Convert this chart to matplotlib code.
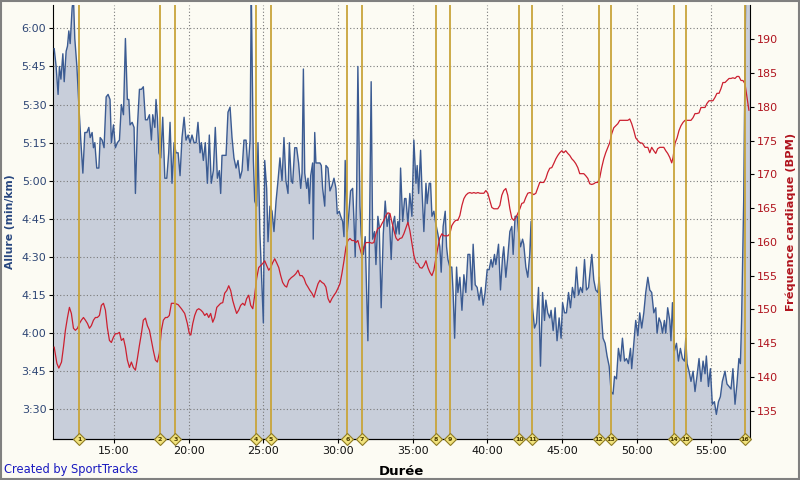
import matplotlib
matplotlib.use("Agg")
import matplotlib.pyplot as plt
from matplotlib.patches import Rectangle
from matplotlib.ticker import FuncFormatter

# --- données : allure (s/km) en fonction du temps (min) ---
pace_time = (
    [10.99, 11.12, 11.25, 11.34, 11.44, 11.57, 11.66, 11.79, 11.88, 11.97,
     12.06, 12.19, 12.28, 12.37, 12.51, 12.64, 12.77, 12.91, 13.04, 13.18,
     13.31, 13.40, 13.53, 13.62, 13.71, 13.84, 13.98, 14.07, 14.20, 14.33,
     14.47, 14.60, 14.73, 14.82, 14.96, 15.09, 15.22, 15.36, 15.49, 15.63,
     15.76, 15.89, 15.99, 16.07, 16.21, 16.34, 16.43, 16.56, 16.70, 16.83,
     16.96, 17.10, 17.23, 17.37, 17.50, 17.59, 17.73, 17.81, 17.90, 18.00,
     18.13, 18.26, 18.40, 18.53, 18.66]
    + [18.75, 18.88, 19.02, 19.15, 19.29, 19.42, 19.55, 19.69, 19.82, 19.96,
       20.09, 20.22, 20.36, 20.49, 20.62, 20.76, 20.85, 20.98, 21.11, 21.25,
       21.38, 21.51, 21.65, 21.78, 21.92, 22.05, 22.14, 22.23, 22.36, 22.50,
       22.63, 22.77, 22.90, 23.03, 23.17, 23.30, 23.44, 23.57, 23.70, 23.84,
       23.97, 24.11, 24.19, 24.33, 24.42, 24.55, 24.64, 24.77, 24.91, 25.00,
       25.09, 25.22, 25.31, 25.44, 25.58, 25.71, 25.85, 25.98, 26.11, 26.25,
       26.38, 26.51]
    + [26.65, 26.74, 26.87, 26.96, 27.10, 27.23, 27.36, 27.50, 27.59, 27.68,
       27.77, 27.90, 27.99, 28.08, 28.17, 28.30, 28.34, 28.44, 28.52, 28.66,
       28.79, 28.88, 28.97, 29.11, 29.19, 29.33, 29.46, 29.59, 29.73, 29.86,
       29.95, 30.08, 30.18, 30.31, 30.40, 30.48, 30.62, 30.71, 30.84, 30.98,
       31.07, 31.15, 31.25, 31.33, 31.47, 31.55, 31.69, 31.82, 31.91, 32.00,
       32.09, 32.22, 32.32, 32.45, 32.54, 32.67, 32.76, 32.89, 33.03, 33.16,
       33.29, 33.43, 33.56, 33.65, 33.79, 33.88, 34.01, 34.10, 34.19, 34.33,
       34.46]
    + [34.55, 34.68, 34.81, 34.95, 35.08, 35.22, 35.30, 35.40, 35.53, 35.62,
       35.75, 35.89, 35.97, 36.11, 36.20, 36.29, 36.42, 36.55, 36.69, 36.82,
       36.91, 37.04, 37.18, 37.27, 37.36, 37.49, 37.62, 37.71, 37.81, 37.94,
       38.03, 38.16, 38.30, 38.43, 38.56, 38.70, 38.83, 38.96, 39.05, 39.19,
       39.32, 39.45, 39.59, 39.72, 39.85, 39.99, 40.12, 40.25, 40.35, 40.48,
       40.57, 40.75, 40.88, 41.02, 41.10, 41.24, 41.37, 41.51, 41.64, 41.73,
       41.86, 42.00, 42.09, 42.22, 42.36]
    + [42.44, 42.58, 42.71, 42.84, 42.93, 43.03, 43.16, 43.29, 43.43, 43.56,
       43.70, 43.83, 43.92, 44.05, 44.18, 44.27, 44.41, 44.54, 44.67, 44.81,
       44.94, 45.04, 45.17, 45.30, 45.44, 45.57, 45.70, 45.84, 45.97, 46.11,
       46.24, 46.37, 46.51, 46.64, 46.78, 46.91, 47.00, 47.13, 47.26, 47.40,
       47.49, 47.62, 47.75, 47.89, 48.02, 48.16, 48.29, 48.42, 48.52, 48.65,
       48.78, 48.92, 49.05, 49.19, 49.32, 49.45, 49.59, 49.67, 49.81, 49.94,
       50.08, 50.21]
    + [50.34, 50.48, 50.61, 50.75, 50.88, 51.01, 51.15, 51.28, 51.37, 51.50,
       51.63, 51.73, 51.86, 51.95, 52.08, 52.22, 52.30, 52.40, 52.53, 52.67,
       52.80, 52.93, 53.07, 53.20, 53.29, 53.38, 53.51, 53.64, 53.78, 53.91,
       54.04, 54.18, 54.31, 54.45, 54.58, 54.67, 54.81, 54.94, 55.07, 55.21,
       55.34, 55.48, 55.61, 55.74, 55.92, 56.05, 56.19, 56.32, 56.45, 56.59,
       56.72, 56.85, 56.95, 57.03, 57.17, 57.30, 57.45, 57.60]
)
pace_sec = (
    [352, 345, 334, 345, 340, 350, 339, 351, 353, 359,
     354, 368, 372, 356, 345, 330, 316, 303, 319, 319,
     321, 317, 319, 313, 315, 305, 305, 317, 316, 313,
     333, 334, 332, 315, 322, 313, 315, 316, 330, 326,
     356, 332, 332, 322, 323, 321, 295, 321, 336, 336,
     337, 324, 324, 326, 316, 326, 321, 332, 325, 311,
     309, 325, 301, 301, 311]
    + [323, 299, 315, 311, 311, 302, 317, 325, 316, 318,
       315, 318, 315, 315, 323, 311, 315, 308, 315, 299,
       318, 299, 304, 321, 301, 304, 295, 310, 310, 310,
       327, 329, 317, 309, 305, 308, 301, 304, 316, 316,
       304, 316, 375, 308, 292, 290, 315, 279, 257, 244,
       308, 297, 276, 290, 288, 280, 292, 300, 309, 300,
       317, 300]
    + [295, 315, 300, 299, 313, 313, 307, 297, 303, 344,
       303, 297, 301, 291, 302, 307, 277, 319, 307, 307,
       307, 306, 297, 290, 306, 305, 296, 298, 301, 297,
       287, 288, 286, 284, 278, 308, 280, 286, 296, 297,
       284, 270, 297, 345, 290, 279, 271, 278, 258, 237,
       271, 339, 277, 280, 267, 286, 282, 250, 279, 292,
       282, 287, 269, 282, 286, 279, 284, 279, 305, 284,
       293]
    + [293, 283, 295, 286, 316, 299, 306, 295, 312, 297,
       280, 299, 291, 299, 299, 286, 288, 283, 279, 274,
       264, 282, 288, 274, 269, 266, 266, 256, 238, 266,
       256, 262, 249, 263, 256, 271, 271, 257, 275, 259,
       258, 253, 258, 251, 256, 265, 265, 269, 266, 271,
       267, 275, 257, 270, 274, 262, 270, 280, 282, 271,
       286, 286, 280, 274, 277]
    + [275, 266, 262, 271, 284, 250, 242, 244, 258, 227,
       256, 245, 253, 248, 246, 249, 241, 250, 237, 246,
       238, 252, 248, 248, 256, 250, 258, 254, 266, 255,
       258, 256, 269, 257, 258, 266, 271, 261, 257, 256,
       262, 249, 238, 236, 231, 227, 217, 216, 223, 222,
       234, 229, 238, 229, 230, 228, 234, 226, 236, 245,
       239, 248]
    + [242, 248, 256, 262, 257, 256, 248, 250, 240, 246,
       244, 240, 245, 240, 250, 245, 237, 252, 233, 236,
       229, 234, 230, 229, 238, 228, 225, 221, 225, 217,
       223, 230, 221, 229, 224, 231, 219, 226, 212, 213,
       208, 213, 215, 221, 225, 220, 219, 218, 226, 212,
       220, 230, 228, 245, 292, 372, 400, 400]
)

# --- données : fréquence cardiaque (BPM) ---
hr_time = (
    [10.99, 11.17, 11.30, 11.48, 11.61, 11.74, 11.88, 12.01, 12.14, 12.28,
     12.41, 12.55, 12.68, 12.81, 12.95, 13.08, 13.22, 13.35, 13.48, 13.62,
     13.75, 13.88, 14.02, 14.15, 14.29, 14.42, 14.55, 14.69, 14.82, 14.96,
     15.09, 15.22, 15.36, 15.49, 15.63, 15.76, 15.89, 16.03, 16.16, 16.29,
     16.43, 16.56, 16.70, 16.83, 16.96, 17.10, 17.23, 17.37, 17.50, 17.63,
     17.77, 17.90, 18.03, 18.17, 18.30, 18.44, 18.57, 18.70]
    + [18.84, 19.07, 19.29, 19.51, 19.73, 19.91, 20.04, 20.14, 20.27, 20.40,
       20.54, 20.67, 20.81, 20.94, 21.07, 21.21, 21.34, 21.47, 21.61, 21.74,
       21.88, 22.01, 22.14, 22.28, 22.41, 22.55, 22.68, 22.81, 22.95, 23.08,
       23.21, 23.35, 23.48, 23.62, 23.75, 23.88, 24.02, 24.15, 24.29, 24.42,
       24.55, 24.69, 24.82, 24.96, 25.09, 25.22, 25.36, 25.49, 25.62, 25.76,
       25.89, 26.03, 26.16, 26.29, 26.43, 26.56]
    + [26.70, 26.87, 27.05, 27.18, 27.32, 27.45, 27.59, 27.72, 27.85, 27.99,
       28.12, 28.25, 28.39, 28.52, 28.66, 28.79, 28.92, 29.06, 29.19, 29.33,
       29.46, 29.59, 29.73, 29.86, 29.99, 30.13, 30.26, 30.40, 30.53, 30.66,
       30.80, 30.93, 31.07, 31.20, 31.33, 31.47, 31.60, 31.74, 31.87, 32.00,
       32.14, 32.27, 32.40, 32.54, 32.67, 32.81, 32.94, 33.07, 33.21, 33.34,
       33.48, 33.61, 33.74, 33.88, 34.01, 34.14, 34.28, 34.41]
    + [34.55, 34.68, 34.81, 34.95, 35.08, 35.22, 35.35, 35.48, 35.62, 35.75,
       35.89, 36.02, 36.15, 36.29, 36.42, 36.55, 36.69, 36.82, 36.96, 37.09,
       37.22, 37.36, 37.49, 37.62, 37.76, 37.89, 38.03, 38.16, 38.30, 38.43,
       38.56, 38.70, 38.83, 38.96, 39.10, 39.23, 39.37, 39.50, 39.63, 39.77,
       39.90, 40.03, 40.17, 40.30, 40.44, 40.57, 40.70, 40.84, 40.97, 41.10,
       41.24, 41.37, 41.51, 41.64, 41.77, 41.91, 42.04, 42.18, 42.31]
    + [42.44, 42.58, 42.71, 42.84, 42.98, 43.11, 43.25, 43.38, 43.51, 43.65,
       43.78, 43.92, 44.05, 44.18, 44.32, 44.45, 44.59, 44.72, 44.85, 44.99,
       45.12, 45.25, 45.39, 45.52, 45.66, 45.79, 45.92, 46.06, 46.19, 46.33,
       46.46, 46.59, 46.73, 46.86, 46.99, 47.13, 47.26, 47.40, 47.53, 47.66,
       47.80, 47.93, 48.07, 48.20, 48.33, 48.47, 48.60, 48.74, 48.87, 49.00,
       49.14, 49.27, 49.41, 49.54, 49.67, 49.81, 49.94, 50.08, 50.21]
    + [50.39, 50.56, 50.75, 50.88, 51.01, 51.15, 51.28, 51.41, 51.55, 51.68,
       51.82, 51.95, 52.08, 52.22, 52.35, 52.44, 52.57, 52.71, 52.84, 52.97,
       53.11, 53.24, 53.38, 53.51, 53.64, 53.78, 53.91, 54.04, 54.18, 54.31,
       54.45, 54.58, 54.71, 54.85, 54.98, 55.11, 55.25, 55.38, 55.52, 55.65,
       55.78, 55.92, 56.05, 56.19, 56.32, 56.45, 56.59, 56.72, 56.85, 56.99,
       57.12, 57.26, 57.39, 57.52]
)
hr_bpm = (
    [144.4, 142.0, 141.3, 142.2, 144.4, 146.9, 148.8, 150.3, 149.4, 147.2,
     146.9, 147.2, 147.9, 148.4, 148.8, 148.4, 147.9, 147.2, 147.6, 148.4,
     148.8, 148.8, 149.1, 150.6, 150.9, 149.9, 147.3, 145.4, 145.1, 145.9,
     146.4, 146.4, 146.6, 145.4, 145.7, 144.4, 142.5, 141.4, 142.2, 141.4,
     141.0, 142.7, 144.7, 146.4, 148.4, 148.7, 147.6, 146.9, 145.4, 143.9,
     142.5, 142.2, 143.5, 146.9, 148.4, 148.8, 148.8, 149.1]
    + [150.9, 150.9, 150.7, 150.1, 149.4, 147.9, 146.4, 146.2, 147.9, 149.1,
       149.9, 150.1, 149.9, 149.6, 149.1, 149.4, 148.8, 149.4, 148.1, 148.8,
       150.3, 150.6, 150.9, 151.0, 152.4, 152.8, 153.5, 152.8, 151.3, 150.3,
       149.4, 149.9, 150.6, 150.9, 150.6, 151.6, 152.1, 150.6, 150.1, 152.1,
       154.6, 156.2, 156.5, 156.8, 157.2, 156.5, 155.8, 156.2, 156.9, 157.5,
       156.9, 156.2, 155.0, 154.0, 153.5, 153.3]
    + [154.3, 154.7, 155.0, 155.3, 155.8, 155.0, 155.0, 154.6, 153.8, 153.3,
       152.8, 152.4, 151.8, 152.8, 153.8, 154.3, 154.0, 153.8, 153.3, 151.6,
       151.0, 151.6, 152.1, 152.5, 153.1, 153.8, 155.3, 157.2, 159.2, 160.2,
       160.5, 160.2, 160.2, 159.9, 160.2, 159.0, 158.0, 159.2, 159.9, 159.9,
       159.9, 159.8, 159.9, 161.2, 162.0, 162.1, 162.7, 163.2, 163.9, 164.3,
       164.2, 162.9, 161.7, 160.6, 160.2, 160.5, 160.6, 161.2]
    + [162.1, 162.9, 161.7, 159.8, 158.0, 156.9, 156.8, 156.2, 156.1, 156.5,
       157.2, 156.2, 155.5, 155.0, 155.8, 157.5, 159.2, 160.6, 161.2, 160.9,
       160.9, 160.9, 161.2, 162.4, 162.9, 163.2, 163.2, 163.9, 165.4, 166.4,
       166.9, 167.2, 167.3, 167.2, 167.3, 167.2, 167.3, 167.2, 167.2, 167.2,
       167.6, 167.2, 166.1, 165.1, 164.9, 164.9, 164.9, 165.4, 166.9, 167.6,
       167.9, 166.9, 164.9, 163.5, 163.2, 163.6, 164.2, 164.9, 165.7]
    + [165.8, 166.6, 167.2, 167.3, 167.2, 167.0, 167.2, 168.0, 168.8, 168.8,
       168.8, 169.4, 170.3, 170.9, 171.0, 171.6, 172.3, 172.8, 173.2, 173.5,
       173.2, 173.5, 173.1, 172.8, 172.3, 172.0, 171.6, 171.0, 170.1, 170.1,
       170.1, 169.8, 169.4, 168.6, 168.5, 168.6, 168.8, 168.8, 169.5, 171.0,
       172.3, 173.2, 174.0, 174.7, 176.0, 176.9, 177.2, 177.5, 178.0, 178.0,
       178.0, 178.0, 178.0, 178.2, 177.5, 176.5, 175.4, 175.0, 174.7]
    + [174.6, 174.0, 174.0, 173.2, 174.0, 173.5, 173.1, 173.8, 174.0, 174.0,
       174.0, 173.5, 173.1, 172.5, 171.7, 172.5, 174.6, 175.4, 176.5, 177.2,
       177.7, 178.0, 178.0, 178.0, 178.0, 178.4, 179.0, 179.0, 179.1, 179.9,
       179.9, 179.9, 180.5, 180.9, 180.9, 180.9, 181.4, 182.0, 182.0, 182.7,
       183.6, 183.6, 183.9, 184.2, 184.2, 184.3, 184.2, 184.5, 184.5, 183.9,
       183.9, 183.4, 181.4, 179.5]
)

# --- tours (min) ---
lap_time = [12.68, 18.08, 19.11, 24.53, 25.50, 30.63, 31.59, 36.57,
            37.50, 42.13, 43.02, 47.48, 48.27, 52.51, 53.29, 57.26]
lap_label = [str(i) for i in range(1, 17)]

x_ticks = [15, 20, 25, 30, 35, 40, 45, 50, 55]
pace_ticks = [210, 225, 240, 255, 270, 285, 300, 315, 330, 345, 360]
hr_ticks = [135, 140, 145, 150, 155, 160, 165, 170, 175, 180, 185, 190]

BG = "#FCFBF3"
PACE_LINE = "#3B5B92"
PACE_FILL = "#C8CEDA"
HR_LINE = "#CC2030"
LAP = "#C9A43A"

plt.rcParams["font.family"] = "DejaVu Sans"

fig = plt.figure(figsize=(8, 4.8), dpi=100, facecolor=BG)
ax = fig.add_axes([53.3 / 800, 1 - 439.3 / 480, 696.2 / 800, 434.3 / 480])
ax.set_facecolor(BG)

ax.fill_between(pace_time, pace_sec, 150, color=PACE_FILL, lw=0, zorder=1)
ax.plot(pace_time, pace_sec, color=PACE_LINE, lw=1.0, zorder=3)
ax.set_xlim(10.93, 57.56)
ax.set_ylim(198.2, 369.2)

ax.grid(True, ls=(0, (1, 2)), color="#7A7A7A", lw=0.8, zorder=2)
ax.set_axisbelow(False)

ax.set_xticks(x_ticks)
ax.xaxis.set_major_formatter(FuncFormatter(lambda v, _: f"{int(v)}:00"))
ax.set_yticks(pace_ticks)
ax.yaxis.set_major_formatter(
    FuncFormatter(lambda v, _: f"{int(v) // 60}:{int(v) % 60:02d}"))
ax.tick_params(axis="x", length=3, labelsize=8, labelcolor="#111111", pad=2)
ax.tick_params(axis="y", length=3, labelsize=8, labelcolor="#2E4675", pad=2)
ax.set_ylabel("Allure (min/km)", color="#27467F", fontweight="bold",
              fontsize=7.8, labelpad=5)
ax.set_xlabel("Durée", fontweight="bold", fontsize=9.5, labelpad=6)
for s in ("top", "right"):
    ax.spines[s].set_visible(False)

ax2 = ax.twinx()
ax2.plot(hr_time, hr_bpm, color=HR_LINE, lw=0.9, zorder=3)
ax2.set_ylim(130.76, 195.08)
ax2.set_yticks(hr_ticks)
ax2.tick_params(axis="y", length=3, labelsize=8, labelcolor="#B0141E", pad=2)
ax2.set_ylabel("Fréquence cardiaque (BPM)", color="#B0141E",
               fontweight="bold", fontsize=8.2, labelpad=6)
for s in ("top", "left"):
    ax2.spines[s].set_visible(False)

# lignes des tours et losanges numérotés
for t, lab in zip(lap_time, lap_label):
    ax2.axvline(t, color=LAP, lw=1.3, zorder=4)
    ax2.plot(t, 0, marker="D", ms=5.8, mfc="#F1E27C", mec="#8E7B22",
             mew=0.8, transform=ax2.get_xaxis_transform(), clip_on=False,
             zorder=6)
    ax2.text(t, 0, lab, transform=ax2.get_xaxis_transform(), ha="center",
             va="center", fontsize=4.5, fontweight="bold", color="#4A3C00",
             zorder=7, clip_on=False)

fig.text(4 / 800, 1 - 470 / 480, "Created by SportTracks", color="#1A1AC0",
         fontsize=8.3, va="center", ha="left")
fig.patches.append(Rectangle((0.001, 0.002), 0.998, 0.996,
                             transform=fig.transFigure, fill=False,
                             ec="#808080", lw=1.5))

fig.savefig("out.png", dpi=100, facecolor=BG)
